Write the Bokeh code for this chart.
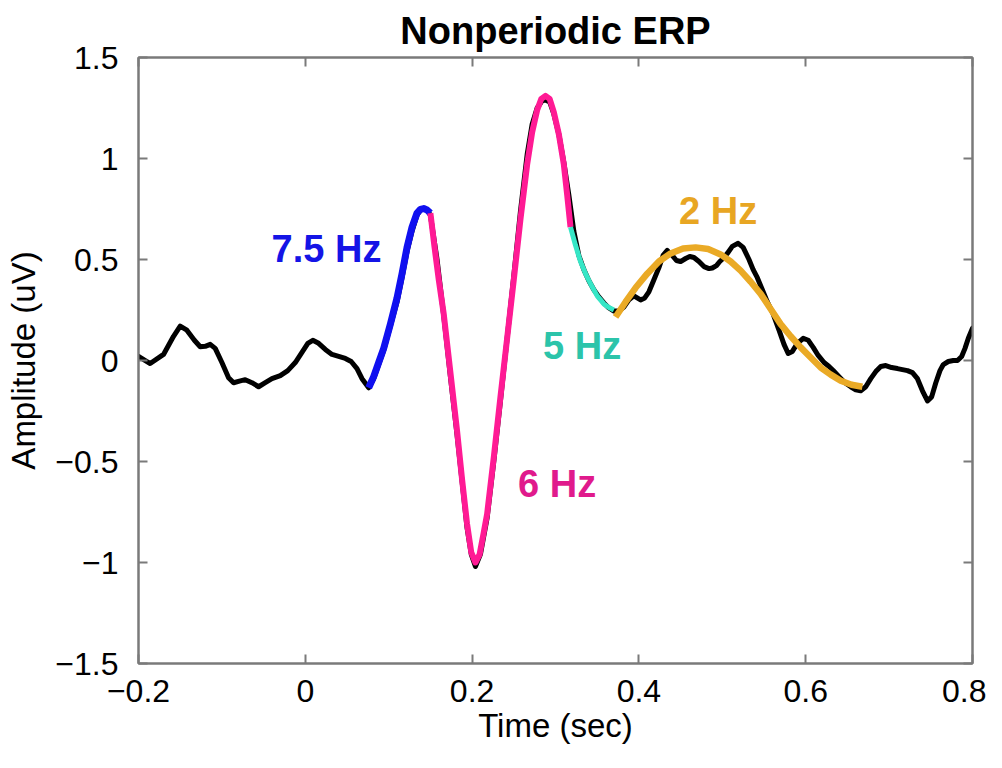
from bokeh.plotting import figure
from bokeh.models import Range1d, LinearAxis, FixedTicker, ColumnDataSource
from bokeh.embed import file_html
from bokeh.resources import INLINE
from bokeh.core.properties import value

# ---- data ----
erp_t = [-0.200, -0.186, -0.170, -0.158, -0.150, -0.142, -0.133, -0.126, -0.120, -0.114, -0.108,
         -0.100, -0.092, -0.086, -0.079, -0.072, -0.064, -0.056, -0.048, -0.040, -0.030, -0.021,
         -0.012, -0.004, 0.003, 0.009, 0.016, 0.024, 0.032, 0.040, 0.048, 0.055, 0.062, 0.068,
         0.076, 0.082, 0.088, 0.094, 0.102, 0.110, 0.116, 0.122, 0.128, 0.134, 0.138, 0.142,
         0.146, 0.150, 0.158, 0.166, 0.174, 0.182, 0.188, 0.194, 0.199, 0.204, 0.210, 0.218,
         0.226, 0.234, 0.242, 0.250, 0.258, 0.266, 0.272, 0.278, 0.284, 0.288, 0.293, 0.298,
         0.304, 0.310, 0.316, 0.322, 0.328, 0.334, 0.340, 0.346, 0.352, 0.358, 0.364, 0.370,
         0.376, 0.382, 0.388, 0.394, 0.398, 0.402, 0.407, 0.412, 0.418, 0.424, 0.429, 0.434,
         0.440, 0.445, 0.450, 0.456, 0.461, 0.466, 0.472, 0.478, 0.484, 0.488, 0.493, 0.497,
         0.501, 0.506, 0.512, 0.519, 0.525, 0.532, 0.537, 0.542, 0.548, 0.554, 0.561, 0.568,
         0.574, 0.579, 0.584, 0.590, 0.597, 0.603, 0.609, 0.615, 0.622, 0.628, 0.633, 0.640,
         0.647, 0.654, 0.660, 0.666, 0.672, 0.678, 0.684, 0.690, 0.696, 0.703, 0.710, 0.716,
         0.722, 0.728, 0.734, 0.740, 0.746, 0.751, 0.756, 0.761, 0.765, 0.771, 0.777, 0.782,
         0.787, 0.791, 0.795, 0.800]
erp_v = [0.020, -0.015, 0.030, 0.120, 0.170, 0.150, 0.100, 0.068, 0.070, 0.080, 0.060,
         -0.010, -0.085, -0.110, -0.102, -0.095, -0.110, -0.130, -0.110, -0.090, -0.075, -0.050,
         -0.010, 0.040, 0.085, 0.100, 0.085, 0.055, 0.030, 0.020, 0.010, -0.005, -0.040, -0.090,
         -0.135, -0.090, -0.020, 0.050, 0.170, 0.290, 0.410, 0.540, 0.640, 0.720, 0.745, 0.750,
         0.745, 0.720, 0.500, 0.220, -0.080, -0.370, -0.600, -0.830, -0.960, -1.020, -0.960, -0.780,
         -0.500, -0.200, 0.110, 0.420, 0.740, 1.020, 1.170, 1.250, 1.285, 1.290, 1.280, 1.220,
         1.120, 0.980, 0.820, 0.640, 0.520, 0.450, 0.395, 0.350, 0.315, 0.285, 0.260, 0.245,
         0.245, 0.265, 0.300, 0.320, 0.310, 0.300, 0.310, 0.340, 0.400, 0.460, 0.520, 0.545,
         0.520, 0.495, 0.490, 0.505, 0.515, 0.510, 0.490, 0.465, 0.455, 0.458, 0.470, 0.490,
         0.505, 0.530, 0.565, 0.580, 0.560, 0.500, 0.450, 0.410, 0.350, 0.290, 0.230, 0.150,
         0.080, 0.035, 0.045, 0.085, 0.110, 0.100, 0.065, 0.025, -0.010, -0.030, -0.050, -0.080,
         -0.110, -0.130, -0.145, -0.150, -0.130, -0.090, -0.055, -0.030, -0.025, -0.035, -0.040, -0.045,
         -0.050, -0.060, -0.090, -0.150, -0.200, -0.180, -0.110, -0.050, -0.020, -0.005, 0.000, 0.000,
         0.020, 0.060, 0.110, 0.160]

blue_t = [0.076, 0.082, 0.088, 0.094, 0.102, 0.110, 0.116, 0.122, 0.128, 0.134, 0.138, 0.142, 0.146, 0.150]
blue_v = [-0.135, -0.080, -0.010, 0.060, 0.180, 0.310, 0.430, 0.560, 0.660, 0.730, 0.748, 0.752, 0.745, 0.730]

pink_t = [0.150, 0.155, 0.160, 0.166, 0.174, 0.182, 0.188, 0.194, 0.199, 0.204, 0.209, 0.214,
          0.218, 0.226, 0.234, 0.242, 0.250, 0.258, 0.266, 0.272, 0.278, 0.283, 0.288, 0.293,
          0.298, 0.304, 0.310, 0.314, 0.318]
pink_v = [0.730, 0.560, 0.400, 0.230, -0.060, -0.350, -0.590, -0.810, -0.950, -1.000, -0.960, -0.850,
          -0.760, -0.480, -0.180, 0.110, 0.400, 0.700, 0.970, 1.130, 1.240, 1.295, 1.310, 1.295,
          1.230, 1.120, 0.970, 0.820, 0.660]

cyan_t = [0.318, 0.324, 0.330, 0.336, 0.342, 0.350, 0.358, 0.364, 0.370]
cyan_v = [0.660, 0.570, 0.490, 0.430, 0.380, 0.320, 0.280, 0.262, 0.250]

orange_t = [0.372, 0.384, 0.396, 0.410, 0.424, 0.438, 0.453, 0.468, 0.483, 0.498, 0.510, 0.522,
            0.534, 0.546, 0.558, 0.570, 0.582, 0.594, 0.606, 0.618, 0.630, 0.642, 0.655, 0.668]
orange_v = [0.215, 0.290, 0.360, 0.430, 0.490, 0.530, 0.555, 0.560, 0.552, 0.525, 0.490, 0.445,
            0.390, 0.330, 0.255, 0.180, 0.120, 0.065, 0.015, -0.035, -0.070, -0.100, -0.120, -0.130]

label_text = ["7.5 Hz", "6 Hz", "5 Hz", "2 Hz"]
label_t = [0.0254, 0.302, 0.332, 0.495]
label_v = [0.55, -0.61, 0.074, 0.74]
label_color = ["#1414e6", "#e01a8c", "#2cc4aa", "#e8a623"]

x_ticks = [-0.2, 0, 0.2, 0.4, 0.6, 0.8]
x_tick_labels = ["\u22120.2", "0", "0.2", "0.4", "0.6", "0.8"]
y_ticks = [-1.5, -1, -0.5, 0, 0.5, 1, 1.5]
y_tick_labels = ["\u22121.5", "\u22121", "\u22120.5", "0", "0.5", "1", "1.5"]

FONT = "Liberation Sans"
AX = "#7a7a7a"

p = figure(width=986, height=752, x_range=Range1d(-0.2, 0.8), y_range=Range1d(-1.5, 1.5),
           output_backend="svg", toolbar_location=None, title="Nonperiodic ERP",
           min_border_left=138, min_border_right=14, min_border_top=57, min_border_bottom=89,
           x_axis_label="Time (sec)", y_axis_label="Amplitude (uV)")
p.title.align = "center"
p.title.text_font = FONT
p.title.text_font_size = "38px"
p.title.text_font_style = "bold"
p.title.text_color = "black"
p.title.standoff = 11
p.title.offset = -6

p.xgrid.visible = False
p.ygrid.visible = False
p.outline_line_color = AX
p.outline_line_width = 2
p.background_fill_color = "white"
p.border_fill_color = "white"

def style_axis(ax, ticks, labels, show_labels=True):
    ax.ticker = FixedTicker(ticks=ticks)
    ax.axis_line_color = AX
    ax.axis_line_width = 2
    ax.major_tick_line_color = AX
    ax.major_tick_line_width = 2
    ax.major_tick_in = 9
    ax.major_tick_out = 0
    ax.minor_tick_line_color = None
    if show_labels:
        ax.major_label_overrides = {t: l for t, l in zip(ticks, labels)}
        ax.major_label_text_font = FONT
        ax.major_label_text_font_size = "32px"
        ax.major_label_text_color = "black"
    else:
        ax.major_label_text_font_size = "1px"
        ax.major_label_text_color = None
        ax.major_label_standoff = 0
    ax.axis_label_text_font = FONT
    ax.axis_label_text_font_size = "33px"
    ax.axis_label_text_font_style = "normal"
    ax.axis_label_text_color = "black"

style_axis(p.xaxis[0], x_ticks, x_tick_labels)
p.xaxis[0].major_label_standoff = 16
p.xaxis[0].axis_label_standoff = 2
style_axis(p.yaxis[0], y_ticks, y_tick_labels)
p.yaxis[0].major_label_standoff = 20
p.yaxis[0].axis_label_standoff = 10

top_ax = LinearAxis()
style_axis(top_ax, x_ticks, x_tick_labels, show_labels=False)
p.add_layout(top_ax, "above")
right_ax = LinearAxis()
style_axis(right_ax, y_ticks, y_tick_labels, show_labels=False)
p.add_layout(right_ax, "right")

p.line(erp_t, erp_v, line_color="black", line_width=5, line_join="round", line_cap="round")
p.line(blue_t, blue_v, line_color="#1010f0", line_width=7, line_join="round", line_cap="butt")
p.line(pink_t, pink_v, line_color="#ff1a94", line_width=6, line_join="round", line_cap="butt")
p.line(cyan_t, cyan_v, line_color="#36e6c6", line_width=5, line_join="round", line_cap="butt")
p.line(orange_t, orange_v, line_color="#eaaa26", line_width=6.5, line_join="round", line_cap="butt")

src = ColumnDataSource(dict(x=label_t, y=label_v, text=label_text, color=label_color))
p.text(x="x", y="y", text="text", source=src, text_color="color",
       text_font=value(FONT), text_font_size="38px", text_font_style="bold",
       text_align="center", text_baseline="middle")

open("out.html", "w").write(file_html(p, INLINE))
